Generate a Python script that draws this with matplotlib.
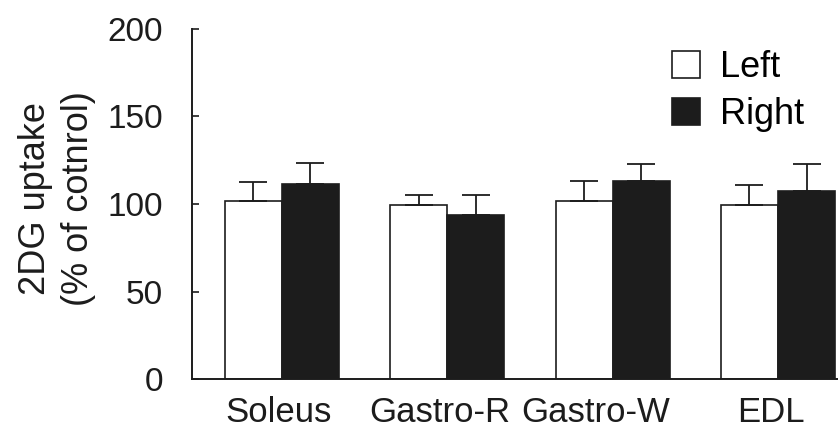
import matplotlib

matplotlib.use('AGG')

import matplotlib.pyplot as plt
from matplotlib.patches import Patch
import numpy as np

plt.rcParams['font.family'] = ['Liberation Sans', 'DejaVu Sans']

categories = ["Soleus", "Gastro-R", "Gastro-W", "EDL"]
left_mean = [101.7, 99.4, 101.7, 99.3]
left_err = [11.0, 5.7, 11.3, 11.6]
right_mean = [111.3, 93.7, 113.3, 107.6]
right_err = [12.0, 11.4, 9.6, 15.3]
yticks = [0, 50, 100, 150, 200]

# the category names sit a little left of their bar pairs in the original
label_shift = [-0.02, -0.045, -0.1, -0.04]

ink = '#1c1c1c'
width = 0.345
x = np.arange(len(categories))

fig = plt.figure(figsize=(8.38, 4.29), dpi=100)
ax = fig.add_axes([192 / 838, 1 - 379 / 429, 646 / 838, 350 / 429])

ax.bar(x - width / 2, left_mean, width, color='white', edgecolor=ink, linewidth=1.2)
ax.bar(x + width / 2, right_mean, width, color=ink, edgecolor=ink, linewidth=1.2)

# upper error bars only
ax.errorbar(x - width / 2, left_mean, yerr=[np.zeros(4), left_err], fmt='none',
            ecolor=ink, elinewidth=1.3, capsize=10, capthick=1.3)
ax.errorbar(x + width / 2, right_mean, yerr=[np.zeros(4), right_err], fmt='none',
            ecolor=ink, elinewidth=1.3, capsize=10, capthick=1.3)

ax.set_xlim(-0.544, 3.363)
ax.set_ylim(0, 200)
ax.set_yticks(yticks)
ax.set_xticks(x + np.array(label_shift))
ax.set_xticklabels(categories, fontsize=25, color=ink)
ax.tick_params(axis='x', length=0, pad=12)
ax.tick_params(axis='y', direction='in', length=5, width=1.2, pad=21,
               labelsize=24, labelcolor=ink, color=ink)

for side in ('top', 'right'):
    ax.spines[side].set_visible(False)
for side in ('left', 'bottom'):
    ax.spines[side].set_linewidth(1.4)
    ax.spines[side].set_color(ink)

fig.text(57 / 838, 1 - 198.5 / 429, "2DG uptake\n(% of cotnrol)", rotation=90,
         ha='center', va='center', multialignment='center', fontsize=26,
         color=ink, linespacing=1.3)

handles = [Patch(facecolor='white', edgecolor=ink, linewidth=1.2),
           Patch(facecolor=ink, edgecolor=ink, linewidth=1.2)]
fig.legend(handles, ["Left", "Right"], loc='upper left',
           bbox_to_anchor=(672 / 838, 1 - 50 / 429), frameon=False,
           fontsize=26, borderpad=0, handlelength=0.78, handleheight=0.78,
           handletextpad=0.55, labelspacing=0.33, borderaxespad=0)

plt.savefig('out.png', dpi=100)
